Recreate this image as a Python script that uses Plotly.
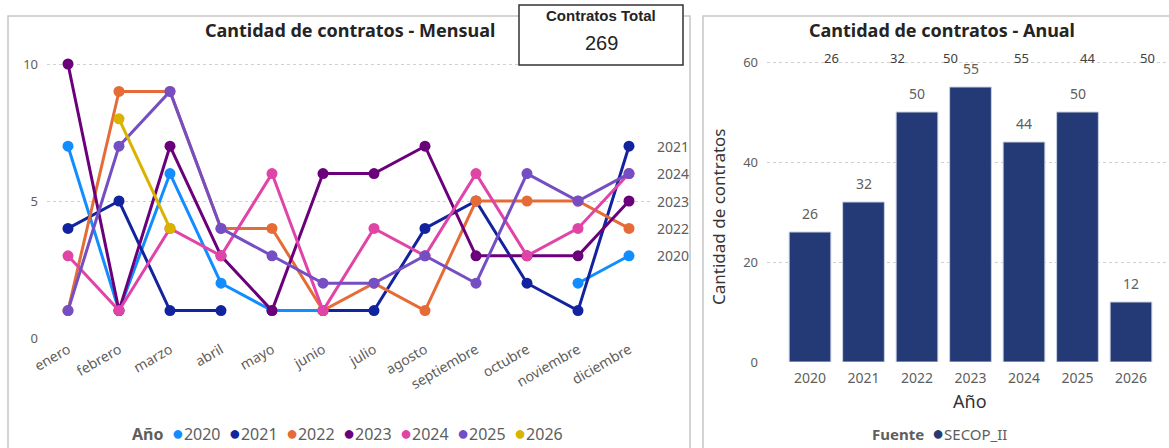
import plotly.graph_objects as go

W, H = 1169, 448
FONT = "Noto Sans"

months = ["enero", "febrero", "marzo", "abril", "mayo", "junio", "julio",
          "agosto", "septiembre", "octubre", "noviembre", "diciembre"]
years = ["2020", "2021", "2022", "2023", "2024", "2025", "2026"]

m2020 = [7, 1, 6, 2, 1, 1, None, None, None, None, 2, 3]
m2021 = [4, 5, 1, 1, None, 1, 1, 4, 5, 2, 1, 7]
m2022 = [1, 9, 9, 4, 4, 1, 2, 1, 5, 5, 5, 4]
m2023 = [10, 1, 7, 3, 1, 6, 6, 7, 3, 3, 3, 5]
m2024 = [3, 1, 4, 3, 6, 1, 4, 3, 6, 3, 4, 6]
m2025 = [1, 7, 9, 4, 3, 2, 2, 3, 2, 6, 5, 6]
m2026 = [None, 8, 4, None, None, None, None, None, None, None, None, None]
monthly = [m2020, m2021, m2022, m2023, m2024, m2025, m2026]

annual = [26, 32, 50, 55, 44, 50, 12]
fuente = "SECOP_II"
# end-of-line labels shown in the reference (others hidden by collision)
end_label_years = ["2021", "2024", "2023", "2022", "2020"]
# stray labels along the top of the annual chart (values of first six years)
top_label_values = annual[:6]
top_label_pos = [0.41, 1.63, 2.62, 3.96, 5.18, 6.30]

colors = ["#118DFF", "#12239E", "#E66C37", "#6B007B", "#E044A7", "#744EC2", "#D9B300"]
bar_color = "#243A76"
tick_gray = "#605E5C"
dark = "#252423"


def px(p):
    return p / W


def py(p):
    return 1 - p / H


fig = go.Figure()

for yr, vals, col in zip(years, monthly, colors):
    fig.add_trace(go.Scatter(
        x=list(range(len(months))), y=vals, mode="lines+markers", name=yr,
        line=dict(color=col, width=3), marker=dict(color=col, size=11),
        connectgaps=False, showlegend=False, cliponaxis=False,
        xaxis="x", yaxis="y"))

bar_x = [int(y) for y in years]
fig.add_trace(go.Bar(
    x=bar_x, y=annual, width=0.78, name=fuente,
    marker=dict(color=bar_color, line=dict(color="#C9D0E0", width=1)),
    showlegend=False, xaxis="x2", yaxis="y2"))

# left chart axes
x1_l, x1_r = 47, 650
y1_t, y1_b = 44, 338
x0_px, x_step = 68, 51
ymax1 = (y1_b - y1_t) / 27.4

# right chart axes
x2_l, x2_r = 767, 1169
y2_t, y2_b = 50, 362
b0_px, b_step = 810, 53.5
ymax2 = (y2_b - y2_t) / 5.0

fig.update_layout(
    width=W, height=H, margin=dict(l=0, r=0, t=0, b=0, autoexpand=False),
    paper_bgcolor="white", plot_bgcolor="white",
    font=dict(family=FONT, color=tick_gray),
    xaxis=dict(domain=[px(x1_l), px(x1_r)], anchor="y", automargin=False,
               range=[(x1_l - x0_px) / x_step, (x1_r - x0_px) / x_step],
               tickmode="array", tickvals=list(range(len(months))), ticktext=months,
               tickangle=-30, tickfont=dict(size=14, color=tick_gray),
               showgrid=False, zeroline=False, showline=False, ticks=""),
    yaxis=dict(domain=[py(y1_b), py(y1_t)], anchor="x", range=[0, ymax1], automargin=False,
               tickvals=[0, 5, 10], tickfont=dict(size=13, color=tick_gray),
               showgrid=True, gridcolor="#D0D0D0", griddash="dot", gridwidth=1,
               zeroline=False, showline=False, ticklabelstandoff=8),
    xaxis2=dict(domain=[px(x2_l), px(x2_r)], anchor="y2", automargin=False,
                range=[2020 + (x2_l - b0_px) / b_step, 2020 + (x2_r - b0_px) / b_step],
                tickmode="array", tickvals=bar_x, ticktext=years,
                tickfont=dict(size=14, color=tick_gray), showgrid=False,
                zeroline=False, showline=False, ticklabelstandoff=6),
    yaxis2=dict(domain=[py(y2_b), py(y2_t)], anchor="x2", range=[0, ymax2], automargin=False,
                tickvals=[0, 20, 40, 60], tickfont=dict(size=13, color=tick_gray),
                showgrid=True, gridcolor="#D0D0D0", griddash="dot", gridwidth=1,
                zeroline=False, showline=False, ticklabelstandoff=8),
)

shapes = [
    dict(type="rect", xref="paper", yref="paper", x0=px(8), x1=px(690), y0=py(460), y1=py(16),
         line=dict(color="#C8C6C4", width=1.5), fillcolor="rgba(0,0,0,0)", layer="below"),
    dict(type="rect", xref="paper", yref="paper", x0=px(703), x1=px(1180), y0=py(460), y1=py(16),
         line=dict(color="#C8C6C4", width=1.5), fillcolor="rgba(0,0,0,0)", layer="below"),
    dict(type="rect", xref="paper", yref="paper", x0=px(519), x1=px(683), y0=py(65), y1=py(5),
         line=dict(color="#333333", width=1.5), fillcolor="white", layer="above"),
]
fig.update_layout(shapes=shapes)

ann = []
ann.append(dict(xref="paper", yref="paper", x=px(350), y=py(30), text="<b>Cantidad de contratos - Mensual</b>",
                showarrow=False, font=dict(size=18, color=dark), xanchor="center", yanchor="middle"))
ann.append(dict(xref="paper", yref="paper", x=px(942), y=py(30), text="<b>Cantidad de contratos - Anual</b>",
                showarrow=False, font=dict(size=18, color=dark), xanchor="center", yanchor="middle"))
ann.append(dict(xref="paper", yref="paper", x=px(601), y=py(15), text="<b>Contratos Total</b>",
                showarrow=False, font=dict(size=15, color=dark, family="Liberation Sans"),
                xanchor="center", yanchor="middle"))
ann.append(dict(xref="paper", yref="paper", x=px(601), y=py(43), text=str(sum(annual)),
                showarrow=False, font=dict(size=20, color=dark, family="Liberation Sans"),
                xanchor="center", yanchor="middle"))

# axis titles of the annual chart
ann.append(dict(xref="paper", yref="paper", x=px(718), y=py(217), text="Cantidad de contratos",
                textangle=-90, showarrow=False, xanchor="center", yanchor="middle",
                font=dict(size=17, color="#333333")))
ann.append(dict(xref="paper", yref="paper", x=px(970), y=py(401), text="Año",
                showarrow=False, xanchor="center", yanchor="middle",
                font=dict(size=18, color="#333333")))

# bar data labels
for xv, v in zip(bar_x, annual):
    ann.append(dict(xref="x2", yref="y2", x=xv, y=v, text=str(v), showarrow=False,
                    xanchor="center", yanchor="bottom", yshift=7,
                    font=dict(size=14, color=tick_gray)))

# end-of-line labels
for yr in end_label_years:
    vals = monthly[years.index(yr)]
    ann.append(dict(xref="x", yref="y", x=len(months) - 1, y=vals[-1], text=yr, showarrow=False,
                    xanchor="left", yanchor="middle", xshift=26,
                    font=dict(size=14, color=tick_gray)))

# stray top labels on annual chart
for v, p in zip(top_label_values, top_label_pos):
    ann.append(dict(xref="x2", yref="paper", x=2020 + p, y=py(58), text=str(v), showarrow=False,
                    xanchor="center", yanchor="middle", font=dict(size=13, color="#404040")))

# legends
leg = "<b>Año</b>  " + "  ".join(
    f"<span style='color:{c};font-size:20px'>●</span>{y}" for y, c in zip(years, colors))
ann.append(dict(xref="paper", yref="paper", x=px(347), y=py(432), text=leg, showarrow=False,
                xanchor="center", yanchor="middle", font=dict(size=16, color=tick_gray)))
leg2 = f"<b>Fuente</b>  <span style='color:{bar_color};font-size:20px'>●</span>{fuente}"
ann.append(dict(xref="paper", yref="paper", x=px(940), y=py(432), text=leg2, showarrow=False,
                xanchor="center", yanchor="middle", font=dict(size=15, color=tick_gray)))

fig.update_layout(annotations=ann)
fig.write_html("out.html", config={"responsive": False, "displayModeBar": False},
               post_script="document.body.style.margin='0';document.body.style.overflow='hidden';")
